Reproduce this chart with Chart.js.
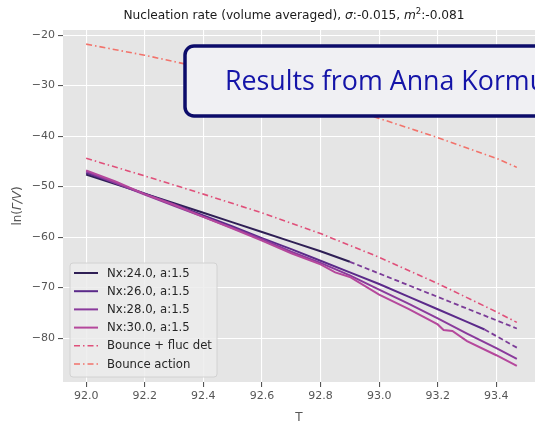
<!DOCTYPE html>
<html>
<head>
<meta charset="utf-8">
<script src="https://cdn.jsdelivr.net/npm/chart.js@4.4.1/dist/chart.umd.min.js"></script>
<style>
  html, body { margin: 0; padding: 0; background: #fff; }
  #wrap { width: 535px; height: 422px; }
</style>
</head>
<body>
<div id="wrap"><canvas id="chart" width="535" height="422"></canvas></div>
<script>
// temperatures and ln(rate/V)
const tNx24 = [92.0, 92.1, 92.2, 92.3, 92.4, 92.5, 92.6, 92.7, 92.8, 92.9];
const nx24 = [-47.6, -49.5, -51.4, -53.3, -55.2, -57.1, -59.0, -60.9, -62.8, -64.9];
const tNx24Ext = [92.9, 93.47];
const nx24Ext = [-64.9, -78.1];

const tNx26 = [92.0, 92.1, 92.2, 92.3, 92.4, 92.5, 92.6, 92.7, 92.8, 92.9, 93.0, 93.1, 93.2, 93.3, 93.36];
const nx26 = [-47.3, -49.3, -51.4, -53.5, -55.7, -57.9, -60.2, -62.4, -64.7, -67.0, -69.3, -71.8, -74.3, -76.8, -78.3];
const tNx26Ext = [93.36, 93.47];
const nx26Ext = [-78.3, -81.9];

const tNx28 = [92.0, 92.1, 92.2, 92.3, 92.4, 92.5, 92.6, 92.7, 92.8, 92.9, 93.0, 93.1, 93.2, 93.3, 93.4, 93.47];
const nx28 = [-47.0, -49.3, -51.6, -53.8, -56.0, -58.2, -60.4, -62.9, -65.1, -67.6, -70.4, -73.2, -76.1, -79.1, -82.0, -84.1];

const tNx30 = [92.0, 92.1, 92.2, 92.3, 92.4, 92.5, 92.6, 92.7, 92.8, 92.85, 92.9, 93.0, 93.1, 93.2, 93.22, 93.25, 93.3, 93.4, 93.47];
const nx30 = [-46.8, -49.0, -51.5, -53.6, -56.0, -58.3, -60.7, -63.2, -65.4, -67.0, -67.9, -71.4, -74.2, -77.3, -78.4, -78.6, -80.6, -83.4, -85.5];

const tBounce = [92.0, 92.2, 92.4, 92.6, 92.8, 93.0, 93.2, 93.4, 93.47];
const flucDet = [-44.4, -47.9, -51.5, -55.2, -59.3, -64.0, -69.2, -74.8, -76.9];
const action = [-21.8, -24.0, -26.5, -29.4, -32.8, -36.5, -40.3, -44.4, -46.2];

const xTicks = [92.0, 92.2, 92.4, 92.6, 92.8, 93.0, 93.2, 93.4];
const yTicks = [-80, -70, -60, -50, -40, -30, -20];

const legendNames = ['Nx:24.0, a:1.5', 'Nx:26.0, a:1.5', 'Nx:28.0, a:1.5', 'Nx:30.0, a:1.5', 'Bounce + fluc det', 'Bounce action'];

const cNx24 = '#2f1f55';
const cNx26 = '#5b2a8a';
const cNx28 = '#8a3a9c';
const cNx30 = '#b5489c';
const cFluc = '#e0507a';
const cAction = '#f2736b';
const cExt = '#7b3c98';
const dashDot = [6, 3, 1.5, 3];

function pts(xs, ys) {
  return xs.map((x, i) => ({ x: x, y: ys[i] }));
}

function line(label, xs, ys, color, width, dash) {
  return {
    label: label,
    data: pts(xs, ys),
    borderColor: color,
    backgroundColor: color,
    borderWidth: width,
    borderDash: dash || [],
    pointRadius: 0,
    showLine: true,
    fill: false,
    tension: 0
  };
}

const datasets = [
  line('Bounce action', tBounce, action, cAction, 1.6, dashDot),
  line('Bounce + fluc det', tBounce, flucDet, cFluc, 1.6, dashDot),
  line('ext24', tNx24Ext, nx24Ext, cExt, 1.8, [5, 3]),
  line('ext26', tNx26Ext, nx26Ext, cExt, 1.8, [5, 3]),
  line('Nx:30.0, a:1.5', tNx30, nx30, cNx30, 2),
  line('Nx:28.0, a:1.5', tNx28, nx28, cNx28, 2),
  line('Nx:26.0, a:1.5', tNx26, nx26, cNx26, 2),
  line('Nx:24.0, a:1.5', tNx24, nx24, cNx24, 2)
];

function runs(ctx, parts, x, y, align) {
  // parts: [text, font, dy]
  let total = 0;
  parts.forEach(p => { ctx.font = p[1]; total += ctx.measureText(p[0]).width; });
  let cx = align === 'center' ? x - total / 2 : x;
  parts.forEach(p => {
    ctx.font = p[1];
    ctx.fillText(p[0], cx, y + (p[2] || 0));
    cx += ctx.measureText(p[0]).width;
  });
}

const decorations = {
  id: 'decorations',
  beforeDraw(chart) {
    const ctx = chart.ctx;
    ctx.save();
    ctx.fillStyle = '#ffffff';
    ctx.fillRect(0, 0, chart.width, chart.height);
    const a = chart.chartArea;
    ctx.fillStyle = '#e5e5e5';
    ctx.fillRect(a.left, a.top, a.right - a.left, a.bottom - a.top);
    ctx.restore();
  },
  afterDatasetsDraw(chart) {
    const ctx = chart.ctx;
    ctx.save();

    // banner box
    const bx = 185, by = 46, bw = 380, bh = 70, r = 9;
    ctx.beginPath();
    ctx.moveTo(bx + r, by);
    ctx.lineTo(bx + bw - r, by);
    ctx.arcTo(bx + bw, by, bx + bw, by + r, r);
    ctx.lineTo(bx + bw, by + bh - r);
    ctx.arcTo(bx + bw, by + bh, bx + bw - r, by + bh, r);
    ctx.lineTo(bx + r, by + bh);
    ctx.arcTo(bx, by + bh, bx, by + bh - r, r);
    ctx.lineTo(bx, by + r);
    ctx.arcTo(bx, by, bx + r, by, r);
    ctx.closePath();
    ctx.fillStyle = '#f0f0f3';
    ctx.fill();
    ctx.lineWidth = 3.5;
    ctx.strokeStyle = '#0c0c6a';
    ctx.stroke();
    ctx.fillStyle = '#1414a8';
    ctx.font = '26.8px "Open Sans"';
    ctx.textBaseline = 'alphabetic';
    ctx.textAlign = 'left';
    ctx.fillText('Results from Anna Kormu', 225, 90);

    // legend
    const lx = 70, ly = 263, lw = 147, lh = 114;
    ctx.beginPath();
    ctx.roundRect(lx, ly, lw, lh, 3);
    ctx.fillStyle = 'rgba(236,236,236,0.85)';
    ctx.fill();
    ctx.lineWidth = 1;
    ctx.strokeStyle = '#d2d2d2';
    ctx.stroke();
    const legendColors = [cNx24, cNx26, cNx28, cNx30, cFluc, cAction];
    const legendDash = [[], [], [], [], dashDot, dashDot];
    ctx.font = '11.7px "DejaVu Sans"';
    ctx.textBaseline = 'middle';
    legendNames.forEach((name, i) => {
      const yy = ly + 10 + i * 18.2;
      ctx.beginPath();
      ctx.setLineDash(legendDash[i]);
      ctx.strokeStyle = legendColors[i];
      ctx.lineWidth = i < 4 ? 2 : 1.6;
      ctx.moveTo(74, yy);
      ctx.lineTo(98, yy);
      ctx.stroke();
      ctx.setLineDash([]);
      ctx.fillStyle = '#262626';
      ctx.fillText(name, 107, yy + 0.5);
    });

    // title and axis labels
    ctx.fillStyle = '#1a1a1a';
    ctx.textBaseline = 'alphabetic';
    const f = '12.2px "DejaVu Sans"';
    const fi = 'italic 12.2px "DejaVu Sans"';
    runs(ctx, [
      ['Nucleation rate (volume averaged), ', f],
      ['\u03c3', fi],
      [':-0.015, ', f],
      ['m', fi],
      ['2', '8.5px "DejaVu Sans"', -5],
      [':-0.081', f]
    ], 294, 19, 'center');

    ctx.fillStyle = '#555555';
    ctx.textAlign = 'center';
    ctx.font = '12px "DejaVu Sans"';
    ctx.fillText('T', (chart.chartArea.left + chart.chartArea.right) / 2, 421);

    ctx.translate(21, (chart.chartArea.top + chart.chartArea.bottom) / 2);
    ctx.rotate(-Math.PI / 2);
    ctx.textAlign = 'left';
    runs(ctx, [
      ['ln(', '12px "DejaVu Sans"'],
      ['\u0393/V', 'italic 12px "DejaVu Sans"'],
      [')', '12px "DejaVu Sans"']
    ], 0, 0, 'center');
    ctx.restore();
  }
};

new Chart(document.getElementById('chart'), {
  type: 'scatter',
  data: { datasets: datasets },
  options: {
    responsive: false,
    devicePixelRatio: 1,
    animation: false,
    layout: { padding: { top: 30, right: 0, left: 0, bottom: 0 } },
    plugins: {
      legend: { display: false },
      title: { display: false },
      tooltip: { enabled: false }
    },
    scales: {
      x: {
        type: 'linear',
        min: 91.921,
        max: 93.532,
        afterFit: s => { s.height = 40; },
        afterBuildTicks: s => { s.ticks = xTicks.map(v => ({ value: v })); },
        border: { display: false },
        grid: { color: '#ffffff', lineWidth: 1.1, tickColor: '#555555', tickLength: 5 },
        ticks: {
          color: '#555555',
          font: { family: 'DejaVu Sans', size: 11 },
          padding: 3,
          maxRotation: 0,
          callback: v => v.toFixed(1)
        }
      },
      y: {
        type: 'linear',
        min: -88.7,
        max: -19.0,
        afterFit: s => { s.width = 63; },
        afterBuildTicks: s => { s.ticks = yTicks.map(v => ({ value: v })); },
        border: { display: false },
        grid: { color: '#ffffff', lineWidth: 1.1, tickColor: '#555555', tickLength: 5 },
        ticks: {
          color: '#555555',
          font: { family: 'DejaVu Sans', size: 11 },
          padding: 3,
          callback: v => String(v).replace('-', '\u2212')
        }
      }
    }
  },
  plugins: [decorations]
});
</script>
</body>
</html>
